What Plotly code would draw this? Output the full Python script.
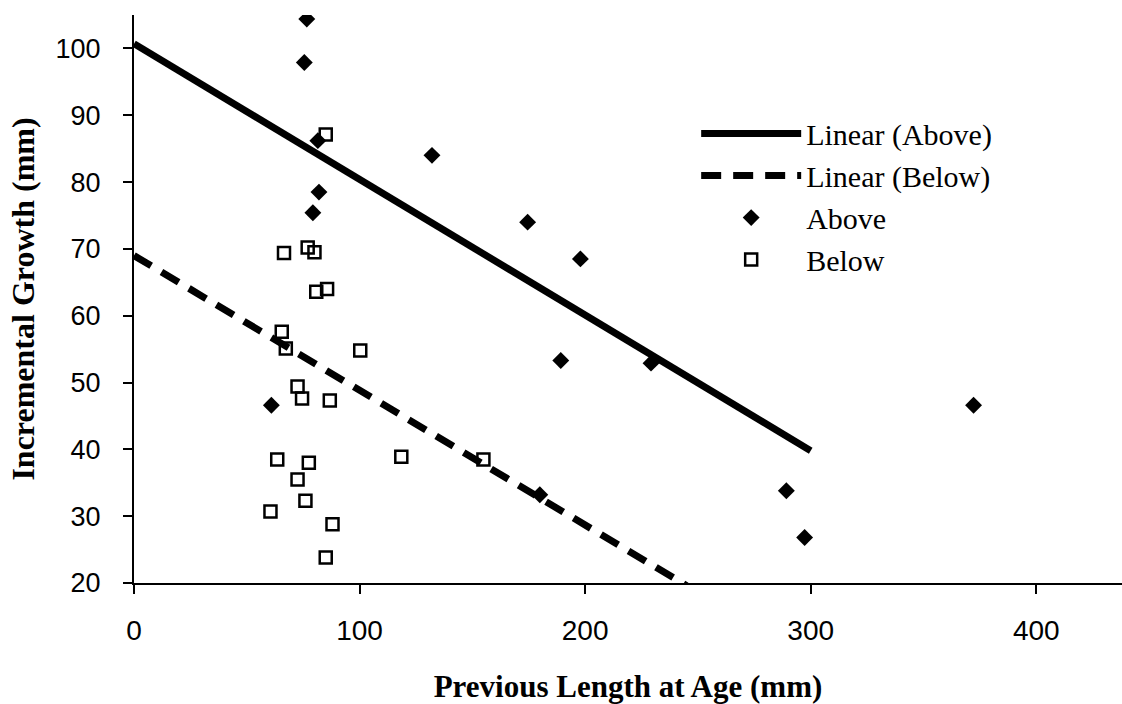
import plotly.graph_objects as go

# Data
above_x = [76.6, 75.5, 81.5, 82.0, 79.3, 60.9, 132.1, 174.5, 197.9, 189.2, 229.2, 179.9, 372.2, 289.2, 297.3]
above_y = [104.4, 97.9, 86.2, 78.5, 75.4, 46.6, 84.0, 74.0, 68.5, 53.3, 52.9, 33.2, 46.6, 33.8, 26.8]

below_x = [85.0, 66.5, 77.0, 80.0, 80.8, 85.6, 65.5, 67.3, 100.3, 72.5, 74.5, 86.8,
           63.5, 77.5, 72.5, 76.0, 60.5, 88.0, 85.0, 118.5, 154.9]
below_y = [87.1, 69.4, 70.2, 69.5, 63.6, 64.0, 57.6, 55.1, 54.8, 49.4, 47.6, 47.3,
           38.5, 38.0, 35.5, 32.3, 30.7, 28.8, 23.8, 38.9, 38.5]

trend_above_x = [0, 300]
trend_above_y = [100.7, 39.8]
trend_below_x = [0, 245]
trend_below_y = [69.0, 19.6]

x_ticks = [0, 100, 200, 300, 400]
y_ticks = [20, 30, 40, 50, 60, 70, 80, 90, 100]

fig = go.Figure()
fig.add_trace(go.Scatter(x=trend_above_x, y=trend_above_y, mode="lines", name="Linear (Above)",
                         line=dict(color="black", width=7)))
fig.add_trace(go.Scatter(x=trend_below_x, y=trend_below_y, mode="lines", name="Linear (Below)",
                         line=dict(color="black", width=7, dash="20px,12px")))
fig.add_trace(go.Scatter(x=above_x, y=above_y, mode="markers", name="Above",
                         marker=dict(symbol="diamond", size=13, color="black", line=dict(width=0))))
fig.add_trace(go.Scatter(x=below_x, y=below_y, mode="markers", name="Below",
                         marker=dict(symbol="square-open", size=12, color="black", line=dict(width=2.5, color="black"))))

y_tick_font = dict(family="Liberation Sans, Arial, sans-serif", size=27, color="black")
x_tick_font = dict(family="Liberation Sans, Arial, sans-serif", size=28, color="black")
title_font = dict(family="Liberation Serif, Times New Roman, serif", size=31, color="black")

fig.update_layout(
    width=1122, height=704,
    margin=dict(l=134, r=0, t=15, b=121, autoexpand=False),
    paper_bgcolor="white", plot_bgcolor="white",
    showlegend=True,
    legend=dict(x=0.569, y=0.837, xanchor="left", yanchor="top",
                font=dict(family="Liberation Serif, Times New Roman, serif", size=30, color="black"),
                bgcolor="rgba(0,0,0,0)", itemwidth=100, tracegroupgap=0),
    xaxis=dict(range=[0, 438], tickvals=x_ticks, ticktext=[str(v) for v in x_ticks],
               showgrid=False, zeroline=False, showline=True, linecolor="black", linewidth=2,
               ticks="outside", ticklen=9, tickwidth=1.5, tickcolor="black",
               tickfont=x_tick_font, ticklabelstandoff=12,
               title=dict(text="<b>Previous Length at Age (mm)</b>", font=title_font, standoff=34),
               automargin=False),
    yaxis=dict(range=[20, 105], tickvals=y_ticks, ticktext=[str(v) for v in y_ticks],
               showgrid=False, zeroline=False, showline=True, linecolor="black", linewidth=2,
               ticks="outside", ticklen=9, tickwidth=1.5, tickcolor="black",
               tickfont=y_tick_font, ticklabelstandoff=17,
               title=dict(text="<b>Incremental Growth (mm)</b>", font=dict(family="Liberation Serif, Times New Roman, serif", size=32, color="black"), standoff=11),
               automargin=False),
)

fig.write_html("out.html")
